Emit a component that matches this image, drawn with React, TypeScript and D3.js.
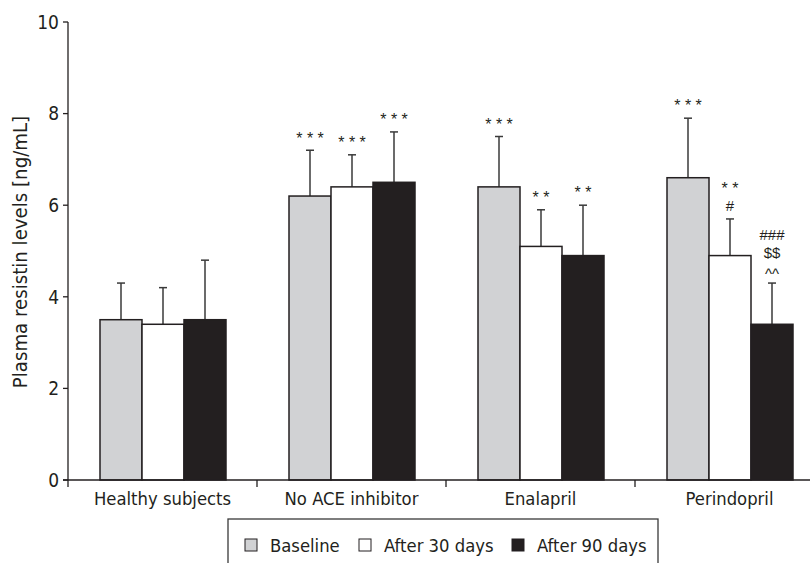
import React from "react";
import * as d3 from "d3";

const categories = ["Healthy subjects", "No ACE inhibitor", "Enalapril", "Perindopril"];
const seriesNames = ["Baseline", "After 30 days", "After 90 days"];
const seriesColors = ["#d1d2d4", "#ffffff", "#231f20"];
const baseline = [3.5, 6.2, 6.4, 6.6];
const after30 = [3.4, 6.4, 5.1, 4.9];
const after90 = [3.5, 6.5, 4.9, 3.4];
const baselineErr = [4.3, 7.2, 7.5, 7.9];
const after30Err = [4.2, 7.1, 5.9, 5.7];
const after90Err = [4.8, 7.6, 6.0, 4.3];
const baselineNotes = [[], ["* * *"], ["* * *"], ["* * *"]];
const after30Notes = [[], ["* * *"], ["* *"], ["* *", "#"]];
const after90Notes = [[], ["* * *"], ["* *"], ["###", "$$", "^^"]];
const yTicks = [0, 2, 4, 6, 8, 10];

const W = 812;
const H = 563;
const COND = "'DejaVu Sans Condensed', 'DejaVu Sans', sans-serif";
const FONT = "'Liberation Sans', Arial, Helvetica, sans-serif";
const INK = "#231f20";

// glyph metrics (fractions of font size) for the annotation symbols
function metrics(t: string) {
  const fs = t.includes("*") ? 16 : 15;
  const c = t.includes("*") || t.includes("^") ? 0.58 : 0.36; // glyph centre above baseline
  return { fs, c, up: (0.905 - c) * fs, down: (0.212 + c) * fs };
}

export default function App() {
  const left = 68;
  const top = 22;
  const bottom = 480;
  const x = d3.scaleBand<string>().domain(categories).range([left, left + 4 * 189]).paddingInner(0).paddingOuter(0);
  const inner = d3.scaleBand<number>().domain([0, 1, 2]).range([32, 32 + 126]).padding(0);
  const y = d3.scaleLinear().domain([0, 10]).range([bottom, top]);

  const series = [
    { values: baseline, errs: baselineErr, notes: baselineNotes },
    { values: after30, errs: after30Err, notes: after30Notes },
    { values: after90, errs: after90Err, notes: after90Notes },
  ];

  const legendX = [245, 359, 512];

  const notes: { key: string; x: number; y: number; fs: number; t: string }[] = [];
  categories.forEach((c, ci) =>
    series.forEach((s, si) => {
      const cx = (x(c) as number) + (inner(si) as number) + inner.bandwidth() / 2;
      const lines = s.notes[ci];
      let center = 0;
      let prev: ReturnType<typeof metrics> | null = null;
      for (let li = lines.length - 1; li >= 0; li--) {
        const m = metrics(lines[li]);
        if (prev === null) {
          center = y(s.errs[ci]) - (lines[li].includes("*") ? 16 : 13);
        } else {
          center = center - Math.max(17.5, m.down + prev.up + 0.6);
        }
        notes.push({ key: `n${ci}-${si}-${li}`, x: cx, y: center + m.c * m.fs, fs: m.fs, t: lines[li] });
        prev = m;
      }
    })
  );

  return (
    <svg width={W} height={H} style={{ position: "absolute", left: 0, top: 0, background: "#fff" }} fontFamily={COND}>
      <rect x={0} y={0} width={W} height={H} fill="#fff" />
      {categories.map((c, ci) =>
        series.map((s, si) => {
          const cx = (x(c) as number) + (inner(si) as number) + inner.bandwidth() / 2;
          return (
            <g key={`e${ci}-${si}`} stroke="#3a3a3a" strokeWidth={1.5}>
              <line x1={cx} x2={cx} y1={y(s.values[ci])} y2={y(s.errs[ci])} />
              <line x1={cx - 4} x2={cx + 4} y1={y(s.errs[ci])} y2={y(s.errs[ci])} />
            </g>
          );
        })
      )}
      {categories.map((c, ci) =>
        series.map((s, si) => (
          <rect
            key={`b${ci}-${si}`}
            x={(x(c) as number) + (inner(si) as number)}
            y={y(s.values[ci])}
            width={inner.bandwidth()}
            height={y(0) - y(s.values[ci])}
            fill={seriesColors[si]}
            stroke={INK}
            strokeWidth={1.5}
          />
        ))
      )}
      {notes.map((n) => (
        <text key={n.key} x={n.x} y={n.y} textAnchor="middle" fontFamily={FONT} fontSize={n.fs} fill={INK}>
          {n.t}
        </text>
      ))}
      <line x1={left} x2={left} y1={y(10)} y2={y(0)} stroke={INK} strokeWidth={1.3} />
      {yTicks.map((t) => (
        <g key={`yt${t}`}>
          <line x1={left - 5} x2={left} y1={y(t)} y2={y(t)} stroke={INK} strokeWidth={1.3} />
          <text x={left - 9} y={y(t)} dy="0.36em" textAnchor="end" fontSize={19} fill={INK}>
            {t}
          </text>
        </g>
      ))}
      <line x1={left - 5} x2={810} y1={bottom} y2={bottom} stroke={INK} strokeWidth={1.3} />
      {categories.map((c) => (
        <line key={`xt${c}`} x1={x(c)} x2={x(c)} y1={bottom} y2={bottom + 7} stroke={INK} strokeWidth={1.3} />
      ))}
      {categories.map((c) => (
        <text
          key={`xl${c}`}
          x={(x(c) as number) + x.bandwidth() / 2}
          y={505}
          textAnchor="middle"
          fontSize={18.3}
          fill={INK}
        >
          {c}
        </text>
      ))}
      <text
        transform={`translate(27, 252) rotate(-90)`}
        textAnchor="middle"
        fontSize={20.2}
        fill={INK}
      >
        Plasma resistin levels [ng/mL]
      </text>
      <rect x={228} y={519} width={430} height={60} fill="none" stroke="#3a3a3a" strokeWidth={1.3} />
      {seriesNames.map((name, i) => (
        <g key={`lg${i}`}>
          <rect x={legendX[i]} y={539} width={12} height={12} fill={seriesColors[i]} stroke={INK} strokeWidth={1} />
          <text x={legendX[i] + 25} y={552} fontSize={18.3} fill={INK}>
            {name}
          </text>
        </g>
      ))}
    </svg>
  );
}
